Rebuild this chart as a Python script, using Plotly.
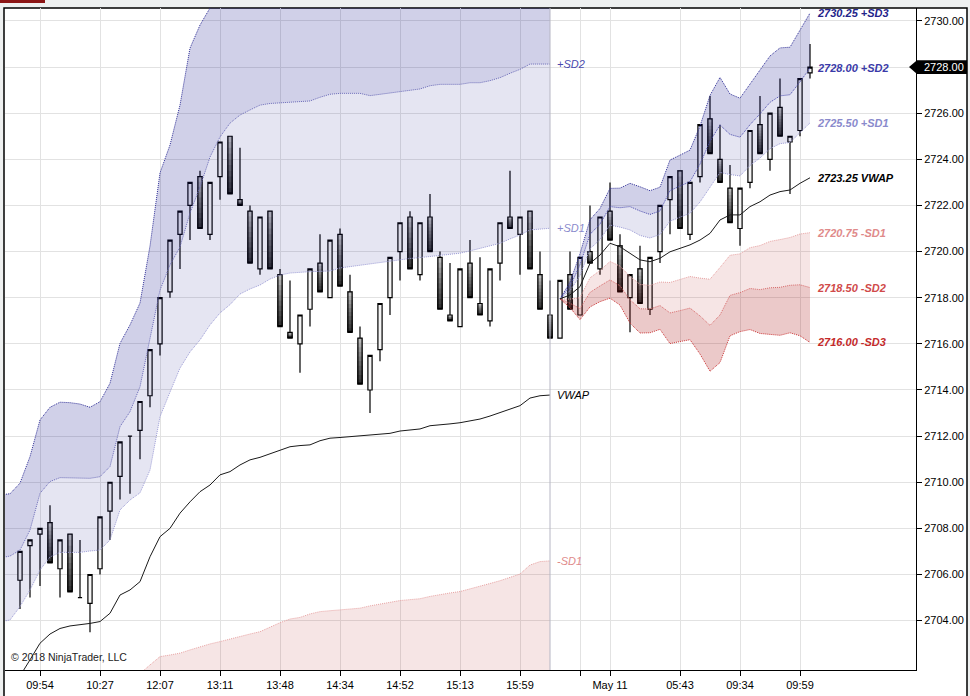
import plotly.graph_objects as go

# bars are plotted on a plain index axis, one slot per bar
bars = list(range(80))
opens = [2705.75, 2707.25, 2707.75, 2708.25, 2706.25, 2707.75, 2705.0, 2704.75, 2706.25, 2708.75,
         2710.25, 2712.0, 2712.25, 2713.75, 2716.0, 2718.25, 2720.75, 2722.0, 2723.25, 2720.75,
         2723.25, 2725.0, 2722.25, 2721.75, 2719.25, 2721.75, 2719.0, 2716.5, 2716.0, 2717.5,
         2719.5, 2718.0, 2720.75, 2718.25, 2716.25, 2714.0, 2715.75, 2718.0, 2720.0, 2721.5,
         2719.0, 2721.5, 2719.75, 2717.25, 2716.75, 2719.5, 2717.75, 2717.0, 2719.5, 2721.5,
         2720.75, 2721.75, 2719.0, 2717.25, 2716.25, 2719.0, 2717.25, 2720.0, 2719.25, 2721.75,
         2720.25, 2718.0, 2719.25, 2717.5, 2720.0, 2722.25, 2723.5, 2720.75, 2723.25, 2725.75,
         2724.0, 2722.75, 2721.0, 2723.0, 2725.5, 2724.0, 2726.25, 2724.75, 2725.25, 2727.75]
highs = [2707.0, 2707.5, 2708.0, 2709.0, 2707.5, 2707.75, 2707.5, 2706.0, 2708.5, 2710.0,
         2711.75, 2712.0, 2713.5, 2715.75, 2718.0, 2720.5, 2721.75, 2723.0, 2723.5, 2723.0,
         2724.75, 2725.0, 2724.5, 2722.0, 2721.5, 2721.75, 2719.25, 2718.75, 2717.25, 2719.25,
         2720.75, 2720.5, 2721.0, 2719.0, 2716.75, 2715.5, 2717.75, 2719.75, 2721.25, 2721.75,
         2721.25, 2722.5, 2720.0, 2719.5, 2719.25, 2720.5, 2719.75, 2719.25, 2721.25, 2723.5,
         2721.5, 2721.75, 2720.0, 2718.75, 2718.75, 2720.0, 2719.75, 2722.0, 2721.5, 2723.0,
         2720.75, 2719.0, 2720.25, 2719.75, 2722.0, 2723.25, 2723.5, 2723.0, 2725.5, 2726.75,
         2725.5, 2723.75, 2722.75, 2725.25, 2726.75, 2726.0, 2727.5, 2725.0, 2727.5, 2729.0]
lows = [2704.5, 2705.0, 2705.5, 2706.5, 2705.0, 2705.25, 2705.0, 2703.5, 2706.0, 2707.5,
        2709.25, 2709.5, 2711.0, 2713.25, 2715.5, 2718.0, 2719.25, 2720.5, 2721.0, 2720.5,
        2722.25, 2722.5, 2722.0, 2719.5, 2719.0, 2719.25, 2716.75, 2716.25, 2714.75, 2716.75,
        2718.25, 2718.0, 2718.5, 2716.5, 2714.25, 2713.0, 2715.25, 2717.25, 2718.75, 2719.25,
        2718.75, 2720.0, 2717.5, 2717.0, 2716.75, 2718.0, 2717.25, 2716.75, 2718.75, 2721.0,
        2719.0, 2719.25, 2717.5, 2716.25, 2716.25, 2717.5, 2717.25, 2719.5, 2719.0, 2720.5,
        2718.25, 2716.5, 2717.75, 2717.25, 2719.5, 2720.75, 2721.0, 2720.5, 2723.0, 2724.25,
        2723.0, 2721.25, 2720.25, 2722.75, 2724.25, 2723.5, 2725.0, 2722.5, 2725.0, 2727.5]
closes = [2707.0, 2707.5, 2708.0, 2706.5, 2707.5, 2705.25, 2705.0, 2706.0, 2708.5, 2710.0,
          2711.75, 2712.0, 2713.5, 2715.75, 2718.0, 2720.5, 2721.75, 2723.0, 2721.0, 2723.0,
          2724.75, 2722.5, 2722.0, 2719.5, 2721.5, 2719.25, 2716.75, 2716.25, 2717.25, 2719.25,
          2718.25, 2720.5, 2718.5, 2716.5, 2714.25, 2715.5, 2717.75, 2719.75, 2721.25, 2719.25,
          2721.25, 2720.0, 2717.5, 2717.0, 2719.25, 2718.0, 2717.25, 2719.25, 2721.25, 2721.0,
          2721.5, 2719.25, 2717.5, 2716.25, 2718.75, 2717.5, 2719.75, 2719.5, 2721.5, 2720.5,
          2718.25, 2719.0, 2717.75, 2719.75, 2722.0, 2723.25, 2721.0, 2723.0, 2725.5, 2724.25,
          2723.0, 2721.25, 2722.75, 2725.25, 2724.25, 2726.0, 2725.0, 2725.0, 2727.5, 2728.0]

tick_pos = [2, 8, 14, 20, 26, 32, 38, 44, 50, 56, 59, 66, 72, 78]
tick_txt = ["09:54", "10:27", "12:07", "13:11", "13:48", "14:34", "14:52", "15:13",
            "15:59", "", "May 11", "05:43", "09:34", "09:59"]
price_ticks = [2704, 2706, 2708, 2710, 2712, 2714, 2716, 2718, 2720, 2722, 2724, 2726, 2728, 2730]

# session 1 bands (start before the first visible bar)
s1_x = list(range(-2, 54))
s1_vwap = [2700.10, 2700.87, 2701.60, 2702.30, 2703.02, 2703.42, 2703.66, 2703.77, 2703.81, 2703.88,
           2703.96, 2704.32, 2705.11, 2705.33, 2705.69, 2706.77, 2707.64, 2708.00, 2708.66, 2709.15,
           2709.59, 2709.88, 2710.32, 2710.46, 2710.75, 2710.97, 2711.08, 2711.23, 2711.40, 2711.54,
           2711.59, 2711.62, 2711.80, 2711.91, 2711.94, 2711.98, 2712.01, 2712.04, 2712.08, 2712.12,
           2712.22, 2712.27, 2712.31, 2712.45, 2712.48, 2712.53, 2712.58, 2712.66, 2712.74, 2712.87,
           2713.03, 2713.18, 2713.32, 2713.65, 2713.75, 2713.78]
s1_up1 = [2703.94, 2704.03, 2704.61, 2705.33, 2706.20, 2706.76, 2706.96, 2706.96, 2706.96, 2707.02,
          2707.06, 2707.50, 2708.80, 2709.23, 2709.54, 2710.53, 2712.84, 2713.91, 2714.95, 2715.65,
          2716.17, 2716.82, 2717.34, 2717.70, 2718.16, 2718.38, 2718.55, 2718.81, 2718.98, 2719.07,
          2719.11, 2719.13, 2719.14, 2719.16, 2719.29, 2719.35, 2719.42, 2719.46, 2719.55, 2719.59,
          2719.64, 2719.70, 2719.74, 2719.79, 2719.85, 2719.90, 2719.93, 2720.03, 2720.13, 2720.24,
          2720.36, 2720.55, 2720.72, 2720.94, 2720.98, 2721.01]
s1_up2 = [2706.72, 2706.80, 2707.06, 2707.93, 2709.52, 2710.03, 2710.20, 2710.20, 2710.17, 2710.17,
          2710.24, 2710.68, 2712.41, 2713.06, 2714.14, 2716.17, 2718.33, 2719.42, 2720.20, 2721.67,
          2722.80, 2724.10, 2724.97, 2725.57, 2725.92, 2726.14, 2726.35, 2726.42, 2726.45, 2726.50,
          2726.51, 2726.53, 2726.69, 2726.82, 2726.86, 2726.86, 2726.86, 2726.76, 2726.82, 2726.87,
          2726.93, 2726.99, 2727.05, 2727.19, 2727.25, 2727.25, 2727.25, 2727.32, 2727.32, 2727.41,
          2727.54, 2727.73, 2727.90, 2728.13, 2728.13, 2728.13]
s1_up3 = [2709.45, 2709.50, 2709.96, 2711.11, 2712.70, 2713.25, 2713.47, 2713.45, 2713.39, 2713.25,
          2713.49, 2714.29, 2716.02, 2716.82, 2717.77, 2720.24, 2723.41, 2724.62, 2726.35, 2728.82,
          2729.82, 2730.56, 2731.60, 2732.40, 2732.90, 2733.30, 2733.60, 2733.80, 2734.00, 2734.10,
          2734.20, 2734.20, 2734.30, 2734.40, 2734.40, 2734.50, 2734.50, 2734.50, 2734.60, 2734.60,
          2734.70, 2734.70, 2734.80, 2734.90, 2734.90, 2735.00, 2735.00, 2735.10, 2735.10, 2735.20,
          2735.30, 2735.40, 2735.50, 2735.60, 2735.60, 2735.60]
s1_dn1 = [2696.30, 2697.70, 2698.60, 2699.30, 2699.80, 2700.10, 2700.36, 2700.58, 2700.66, 2700.74,
          2700.86, 2701.14, 2701.42, 2701.43, 2701.70, 2702.08, 2702.44, 2702.51, 2702.59, 2702.73,
          2702.87, 2702.99, 2703.09, 2703.21, 2703.31, 2703.42, 2703.52, 2703.73, 2703.91, 2704.07,
          2704.14, 2704.29, 2704.39, 2704.43, 2704.46, 2704.51, 2704.54, 2704.64, 2704.72, 2704.81,
          2704.87, 2704.91, 2704.95, 2705.05, 2705.14, 2705.20, 2705.26, 2705.37, 2705.47, 2705.61,
          2705.73, 2705.87, 2706.02, 2706.41, 2706.56, 2706.59]

# session 2 bands
s2_x = list(range(54, 80))
s2_vwap = [2717.95, 2718.12, 2718.48, 2719.49, 2719.85, 2720.36, 2720.21, 2719.93, 2719.64, 2719.56,
           2719.71, 2719.99, 2720.14, 2720.29, 2720.50, 2720.79, 2721.37, 2721.59, 2721.59, 2721.95,
           2722.16, 2722.45, 2722.60, 2722.67, 2722.96, 2723.20]
s2_up1 = [2717.95, 2718.30, 2718.96, 2720.12, 2720.52, 2721.15, 2721.06, 2720.94, 2720.70, 2720.59,
          2720.74, 2721.32, 2721.49, 2721.66, 2722.15, 2722.78, 2723.43, 2723.34, 2723.28, 2723.73,
          2724.06, 2724.46, 2724.68, 2724.73, 2725.16, 2725.58]
s2_up2 = [2717.95, 2718.48, 2719.43, 2720.75, 2721.19, 2721.95, 2721.90, 2721.95, 2721.76, 2721.61,
          2721.76, 2722.64, 2722.84, 2723.03, 2723.79, 2724.78, 2725.49, 2725.08, 2724.96, 2725.50,
          2725.97, 2726.47, 2726.75, 2726.80, 2727.36, 2727.96]
s2_up3 = [2717.95, 2718.67, 2719.91, 2721.38, 2721.87, 2722.74, 2722.75, 2722.96, 2722.81, 2722.64,
          2722.79, 2723.97, 2724.18, 2724.40, 2725.44, 2726.77, 2727.55, 2726.83, 2726.65, 2727.28,
          2727.87, 2728.48, 2728.83, 2728.86, 2729.57, 2730.34]
s2_dn1 = [2717.95, 2717.94, 2718.00, 2718.86, 2719.18, 2719.57, 2719.37, 2718.92, 2718.58, 2718.53,
          2718.68, 2718.66, 2718.79, 2718.92, 2718.85, 2718.80, 2719.31, 2719.84, 2719.90, 2720.17,
          2720.26, 2720.44, 2720.52, 2720.61, 2720.76, 2720.82]
s2_dn2 = [2717.95, 2717.76, 2717.53, 2718.23, 2718.51, 2718.77, 2718.52, 2717.91, 2717.52, 2717.51,
          2717.66, 2717.34, 2717.44, 2717.55, 2717.21, 2716.80, 2717.25, 2718.10, 2718.22, 2718.40,
          2718.35, 2718.43, 2718.45, 2718.54, 2718.56, 2718.44]
s2_dn3 = [2717.95, 2717.57, 2717.05, 2717.60, 2717.83, 2717.98, 2717.68, 2716.90, 2716.47, 2716.48,
          2716.63, 2716.01, 2716.10, 2716.18, 2715.56, 2714.81, 2715.19, 2716.35, 2716.53, 2716.62,
          2716.45, 2716.42, 2716.37, 2716.48, 2716.35, 2716.06]

last_price = closes[-1]

# colours
DARK_LAV = "rgba(20,20,140,0.2)"
LIGHT_LAV = "rgba(20,20,140,0.11)"
LIGHT_PINK = "rgba(170,20,20,0.11)"
DARK_PINK = "rgba(170,20,20,0.23)"
C_UP3, C_UP2, C_UP1 = "#2e2e96", "#4a4aae", "#9c9cd6"
C_DN1, C_DN2, C_DN3 = "#e8a2a2", "#d86a6a", "#cc3636"
DOTS = "1px,1px"
# shades for the down-bar gradient, bottom (close) to top (open)
GRAD = ["#333333", "#3f3f3f", "#4c4c4c", "#5a5a5a", "#686868",
        "#777777", "#878787", "#989898", "#aaaaaa", "#bcbcbc"]

fig = go.Figure()

# gradient bodies of the down bars: each lighter layer starts higher and runs up to the open,
# so the layers overlap and leave no seams
dn = [i for i in bars if closes[i] < opens[i]]
n = len(GRAD)
for s, col in enumerate(GRAD):
    fig.add_trace(go.Bar(
        x=dn,
        base=[closes[i] + (opens[i] - closes[i]) * s / n for i in dn],
        y=[(opens[i] - closes[i]) * (n - s) / n for i in dn],
        width=0.6, marker=dict(color=col, line=dict(width=0)), hoverinfo="skip"))

fig.add_trace(go.Candlestick(
    x=bars, open=opens, high=highs, low=lows, close=closes,
    increasing=dict(line=dict(color="black", width=1.2), fillcolor="#f4f4f4"),
    decreasing=dict(line=dict(color="black", width=1.2), fillcolor="rgba(0,0,0,0)"),
    whiskerwidth=0, hoverinfo="skip"))


def line(x, y, color, fill=None, fillcolor=None, dash=DOTS, width=1):
    fig.add_trace(go.Scatter(x=x, y=y, mode="lines",
                             line=dict(color=color, width=width, dash=dash),
                             fill=fill, fillcolor=fillcolor, hoverinfo="skip"))


# session 1
line(s1_x, s1_up1, C_UP1)
line(s1_x, s1_up2, "#6a6ab8", "tonexty", LIGHT_LAV)
line(s1_x, s1_up3, C_UP3, "tonexty", DARK_LAV)
line(s1_x, s1_dn1, C_DN1, "tozeroy", LIGHT_PINK)
line(s1_x, s1_vwap, "#1a1a1a", dash="solid")

# session 2
line(s2_x, s2_up1, C_UP1)
line(s2_x, s2_up2, C_UP2, "tonexty", LIGHT_LAV)
line(s2_x, s2_up3, C_UP3, "tonexty", DARK_LAV)
line(s2_x, s2_dn1, C_DN1)
line(s2_x, s2_dn2, C_DN2, "tonexty", LIGHT_PINK)
line(s2_x, s2_dn3, C_DN3, "tonexty", DARK_PINK)
line(s2_x, s2_vwap, "#1a1a1a", dash="solid")

# labels at end of each session
ann = []
lab_font = dict(family="Arial, Liberation Sans", size=11)
for txt, y, col in [("+SD2", s1_up2[-1], "#4a4aae"), ("+SD1", s1_up1[-1], "#8a8acc"),
                    ("VWAP", s1_vwap[-1], "black"), ("-SD1", s1_dn1[-1], "#e08a8a")]:
    ann.append(dict(x=53.5, y=y, text="<i>%s</i>" % txt, showarrow=False, xanchor="left",
                    font=dict(lab_font, color=col)))

for name, vals, col in [("+SD3", s2_up3, "#24248a"), ("+SD2", s2_up2, "#3a3aa8"),
                        ("+SD1", s2_up1, "#8a8acc"), ("VWAP", s2_vwap, "black"),
                        ("-SD1", s2_dn1, "#e08a8a"), ("-SD2", s2_dn2, "#d04a4a"),
                        ("-SD3", s2_dn3, "#c42a2a")]:
    v = round(vals[-1] * 4) / 4
    ann.append(dict(x=79.5, y=vals[-1], text="<b><i>%.2f %s</i></b>" % (v, name),
                    showarrow=False, xanchor="left", font=dict(lab_font, color=col)))

ann.append(dict(x=0.0045, y=0.0196, xref="paper", yref="paper", text="© 2018 NinjaTrader, LLC",
                showarrow=False, xanchor="left", yanchor="middle",
                font=dict(family="Arial, Liberation Sans", size=10.5, color="#222")))

# price tag on the right
ann.append(dict(x=1.031, y=last_price, xref="paper", yref="y", text="%.2f" % last_price,
                showarrow=False, xanchor="center",
                font=dict(family="Arial, Liberation Sans", size=11, color="white")))

W = 911.0
def px(p):
    return (p - 5) / W

shapes = [
    # outer frame
    dict(type="rect", xref="paper", yref="paper", x0=px(4), x1=px(967), y0=-0.07, y1=1.0,
         fillcolor="white", line=dict(color="black", width=1.5), layer="below"),
    dict(type="rect", xref="paper", yref="paper", x0=px(0), x1=px(45), y0=1.0076, y1=1.013,
         fillcolor="#8b1515", line=dict(width=0), layer="below"),
    # session break
    dict(type="line", xref="x", yref="paper", x0=53, x1=53, y0=0, y1=1,
         line=dict(color="#b6b6c4", width=1), layer="above"),
    # price tag
    dict(type="path", xref="paper", yref="y",
         path="M %f,%f L %f,%f L %f,%f L %f,%f L %f,%f Z" % (
             px(909), last_price, px(917), last_price + 0.3, px(967), last_price + 0.3,
             px(967), last_price - 0.3, px(917), last_price - 0.3),
         fillcolor="black", line=dict(width=0), layer="above"),
]

fig.update_layout(
    width=970, height=696,
    margin=dict(l=5, r=54, t=8, b=26),
    paper_bgcolor="#eef0f0", plot_bgcolor="white",
    showlegend=False, boxgap=0.4, barmode="overlay",
    font=dict(family="Arial, Liberation Sans", size=11, color="black"),
    annotations=ann, shapes=shapes,
    xaxis=dict(range=[-1.5, 89.6], tickvals=tick_pos, ticktext=tick_txt,
               showgrid=True, gridcolor="#e2e2e2", gridwidth=1,
               showline=True, linecolor="black", linewidth=1,
               ticks="outside", ticklen=5, tickcolor="black",
               rangeslider=dict(visible=False), zeroline=False, fixedrange=True),
    yaxis=dict(range=[2701.86, 2730.56], side="right", tickvals=price_ticks,
               tickformat=".2f", showgrid=True, gridcolor="#e2e2e2", gridwidth=1,
               showline=True, linecolor="black", linewidth=1,
               ticks="outside", ticklen=5, tickcolor="black", zeroline=False),
)

# the page's default body margin would shift the figure by 8px
fig.write_html("out.html", config={"displayModeBar": False},
               post_script="document.body.style.margin='0px';")
